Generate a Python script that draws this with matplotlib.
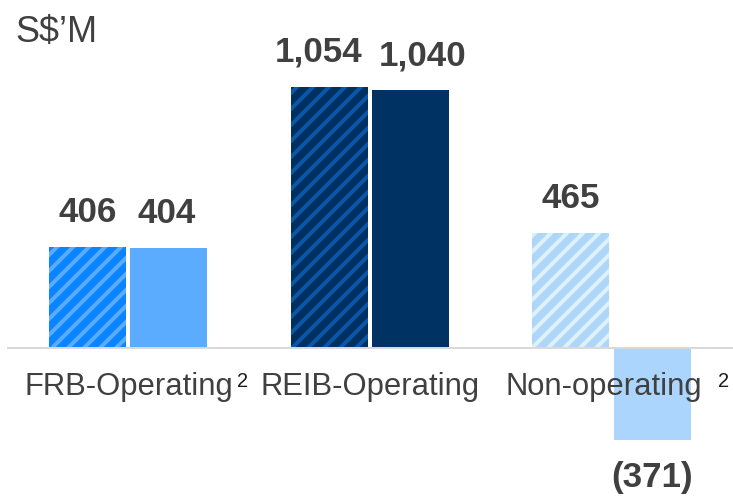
import matplotlib
matplotlib.use("Agg")
import matplotlib.pyplot as plt
import numpy as np

# ---- data ----
categories = ['FRB-Operating', 'REIB-Operating', 'Non-operating']
superscripts = ['2', '', '2']
prev_values = [406, 1054, 465]      # hatched bars
curr_values = [404, 1040, -371]     # solid bars
unit_label = 'S$\u2019M'

# ---- styles ----
hatched_face = ['#0a84ff', '#00305f', '#aed6fb']
hatched_stripe = ['#5aacff', '#0a56a8', '#dcf2f6']
solid_face = ['#5babff', '#003263', '#abd5fd']
text_color = '#404040'

DPI = 144
W, H = 733, 498
plt.rcParams['font.family'] = ['Liberation Sans', 'DejaVu Sans']
plt.rcParams['hatch.linewidth'] = 2.0

fig = plt.figure(figsize=(W / DPI, H / DPI), dpi=DPI)
ax = fig.add_axes([0, 0, 1, 1])
ax.axis('off')

px_per_unit = 0.248
base_px = 348
group_px = 241.5
first_px = 128.5
ax.set_ylim(-(H - base_px) / px_per_unit, base_px / px_per_unit)
ax.set_xlim(-first_px / group_px, (W - first_px) / group_px)

x = np.arange(len(categories))
bw = 77 / group_px
off = 40.5 / group_px
# horizontal nudges of value labels (points), to keep wide labels apart
label_nudge_prev = [0, -5.5, 0]
label_nudge_curr = [-1, 6, 0]

def fmt(v):
    s = f"{abs(v):,}"
    return f"({s})" if v < 0 else s

for i in range(len(categories)):
    ax.bar(x[i] - off, prev_values[i], width=bw, color=hatched_face[i],
           edgecolor=hatched_stripe[i], linewidth=0, hatch='///', zorder=2)
    ax.bar(x[i] + off, curr_values[i], width=bw, color=solid_face[i],
           linewidth=0, zorder=2)
    for xx, v, nd in ((x[i] - off, prev_values[i], label_nudge_prev[i]),
                      (x[i] + off, curr_values[i], label_nudge_curr[i])):
        if v >= 0:
            ax.annotate(fmt(v), (xx, v), xytext=(nd, 9), textcoords='offset points',
                        ha='center', va='bottom', fontsize=17.5, fontweight='bold',
                        color=text_color)
        else:
            ax.annotate(fmt(v), (xx, v), xytext=(nd, -10.5), textcoords='offset points',
                        ha='center', va='top', fontsize=17.5, fontweight='bold',
                        color=text_color)

ax.axhline(0, xmin=8 / W, xmax=1, color='#d9d9d9', lw=1.0, zorder=3)

label_y = -(395 - base_px) / px_per_unit
label_dx = [0, 0, -7.5 / group_px]
sup_x_px = [237, None, 718]
for i, cat in enumerate(categories):
    ax.text(x[i] + label_dx[i], label_y, cat, ha='center', va='baseline',
            fontsize=15.5, color=text_color, zorder=5)
    if superscripts[i]:
        fig.text(sup_x_px[i] / W, 1 - 387 / H, superscripts[i], ha='left',
                 va='baseline', fontsize=10, color='#1a1a1a', zorder=5)

fig.text(15 / W, 1 - 42 / H, unit_label, ha='left', va='baseline',
         fontsize=18, color=text_color)

fig.savefig('out.png', dpi=DPI)
